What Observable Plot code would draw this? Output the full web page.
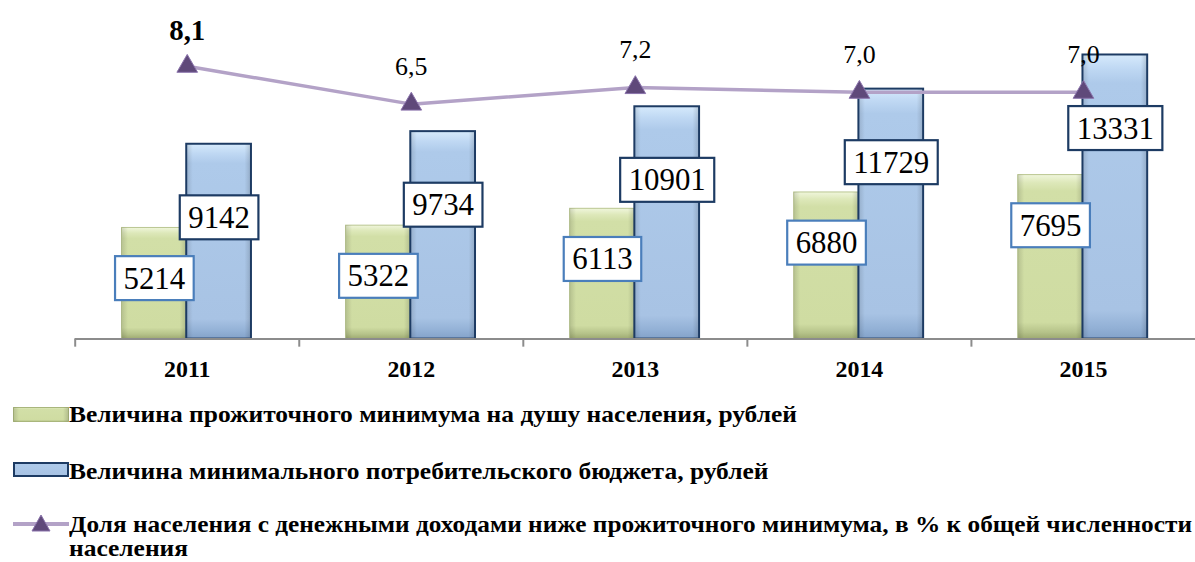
<!DOCTYPE html>
<html>
<head>
<meta charset="utf-8">
<script src="https://cdn.jsdelivr.net/npm/d3@7"></script>
<script src="https://cdn.jsdelivr.net/npm/@observablehq/plot@0.6"></script>
<style>
  html, body { margin: 0; padding: 0; background: #fff; overflow: hidden; }
  #wrap { position: relative; width: 1195px; height: 562px; overflow: hidden; font-family: "Liberation Serif", "Times New Roman", serif; }
  #wrap .layer { position: absolute; left: 0; top: 0; }
  #wrap svg text { font-family: "Liberation Serif", "Times New Roman", serif; }
  #defs { position: absolute; width: 0; height: 0; }
  .lg-text { position: absolute; left: 69px; font-size: 23px; font-weight: bold; line-height: 26px; white-space: nowrap; transform-origin: left center; color: #000; font-family: "Liberation Serif", "Times New Roman", serif; }
  .lg-sw { position: absolute; left: 13px; }
</style>
</head>
<body>
<svg id="defs" aria-hidden="true">
  <defs>
    <linearGradient id="gGreen" x1="0" y1="0" x2="0" y2="1">
      <stop offset="0" stop-color="#f0f6dc"/>
      <stop offset="0.05" stop-color="#dde8b9"/>
      <stop offset="0.1" stop-color="#d2dfa7"/>
      <stop offset="0.9" stop-color="#cfdca2"/>
      <stop offset="0.96" stop-color="#b6c38a"/>
      <stop offset="1" stop-color="#9eaa72"/>
    </linearGradient>
    <linearGradient id="gBlue" x1="0" y1="0" x2="0" y2="1">
      <stop offset="0" stop-color="#d6eafc"/>
      <stop offset="0.05" stop-color="#bfd8f3"/>
      <stop offset="0.1" stop-color="#aecaea"/>
      <stop offset="0.9" stop-color="#a8c3e4"/>
      <stop offset="0.96" stop-color="#93b1d6"/>
      <stop offset="1" stop-color="#83a2c9"/>
    </linearGradient>
    <linearGradient id="gEdge" x1="0" y1="0" x2="1" y2="0">
      <stop offset="0" stop-color="#000" stop-opacity="0.13"/>
      <stop offset="0.1" stop-color="#000" stop-opacity="0"/>
      <stop offset="0.9" stop-color="#000" stop-opacity="0"/>
      <stop offset="1" stop-color="#000" stop-opacity="0.15"/>
    </linearGradient>
  </defs>
</svg>
<div id="wrap"></div>
<script>
// ---- data ----
const years = ["2011", "2012", "2013", "2014", "2015"];
const subsistence = [5214, 5322, 6113, 6880, 7695];       // прожиточный минимум, руб.
const budget = [9142, 9734, 10901, 11729, 13331];          // минимальный потребительский бюджет, руб.
const poverty = [8.1, 6.5, 7.2, 7.0, 7.0];                 // доля населения ниже ПМ, %
const povertyLabels = ["8,1", "6,5", "7,2", "7,0", "7,0"];
const seriesNames = [
  "Величина прожиточного минимума на душу населения, рублей",
  "Величина минимального потребительского бюджета, рублей",
  "Доля населения с денежными доходами ниже прожиточного минимума, в % к общей численности",
  "населения"
];

const rows = years.map((year, i) => ({
  year, sub: subsistence[i], bud: budget[i], pov: poverty[i], povLabel: povertyLabels[i]
}));

const FONT = "'Liberation Serif', 'Times New Roman', serif";
const W = 1200, H = 395;
const common = {
  width: W, height: H, marginLeft: 75, marginRight: 0, marginTop: 19, marginBottom: 55,
  style: { fontFamily: FONT, background: "transparent", overflow: "visible", color: "#000" }
};
const xScale = { type: "band", domain: years, padding: 0, axis: null };

const barsPlot = Plot.plot({
  ...common,
  x: xScale,
  y: { domain: [0, 15000], axis: null },
  marks: [
    Plot.barY(rows, { x: "year", y: "sub", fill: "url(#gGreen)", stroke: "#bac691", strokeWidth: 1, insetLeft: 47, insetRight: 113 }),
    Plot.barY(rows, { x: "year", y: "sub", fill: "url(#gEdge)", insetLeft: 47, insetRight: 113 }),
    Plot.barY(rows, { x: "year", y: "bud", fill: "url(#gBlue)", insetLeft: 112, insetRight: 48 }),
    Plot.barY(rows, { x: "year", y: "bud", fill: "url(#gEdge)", stroke: "#1d3b63", strokeWidth: 2, insetLeft: 112, insetRight: 48 }),
    Plot.ruleY([0], { stroke: "#8c8c8c", strokeWidth: 2 }),
    Plot.ruleX(years, { x: d => d, y1: 0, y2: -380, dx: -112.5, stroke: "#8c8c8c", strokeWidth: 2 }),
    Plot.text(years, { x: d => d, y: 0, dy: 30, text: d => d, fontWeight: "bold", fontSize: 24, fill: "#000" }),
    Plot.text(rows, { x: "year", y: "sub", text: d => String(d.sub), dx: -33, dy: 51, fontSize: 31, fill: "#000" }),
    Plot.text(rows, { x: "year", y: "bud", text: d => String(d.bud), dx: 32, dy: 74, fontSize: 31, fill: "#000" })
  ]
});
barsPlot.classList.add("layer");

const linePlot = Plot.plot({
  ...common,
  x: xScale,
  y: { domain: [0, 10], range: [258.4, 21.0], axis: null },
  marks: [
    Plot.line(rows, { x: "year", y: "pov", stroke: "#b3a2c7", strokeWidth: 3.5 }),
    Plot.dot(rows, { x: "year", y: "pov", symbol: "triangle", r: 7.7, fill: "#5f497a", stroke: "#8a73ab", strokeWidth: 1 }),
    Plot.text(rows.slice(0, 1), { x: "year", y: "pov", text: "povLabel", dy: -36, fontSize: 29, fontWeight: "bold", fill: "#000" }),
    Plot.text(rows.slice(1), { x: "year", y: "pov", text: "povLabel", dy: -38, fontSize: 26, fill: "#000" })
  ]
});
linePlot.classList.add("layer");
linePlot.style.pointerEvents = "none";

const wrap = document.getElementById("wrap");
wrap.appendChild(barsPlot);
wrap.appendChild(linePlot);

// white label boxes behind bar value labels
const NS = "http://www.w3.org/2000/svg";
const textGroups = barsPlot.querySelectorAll('g[aria-label="text"]');
[[textGroups[1], "#4a7ebb"], [textGroups[2], "#1d3b63"]].forEach(([g, color]) => {
  if (!g) return;
  g.querySelectorAll("text").forEach(t => {
    const b = t.getBBox();
    const r = document.createElementNS(NS, "rect");
    const padX = 8.5, padY = 4.5;
    r.setAttribute("x", b.x - padX);
    r.setAttribute("y", b.y - padY);
    r.setAttribute("width", b.width + 2 * padX);
    r.setAttribute("height", b.height + 2 * padY);
    r.setAttribute("fill", "#fff");
    r.setAttribute("stroke", color);
    r.setAttribute("stroke-width", 2.2);
    const tr = t.getAttribute("transform");
    if (tr) r.setAttribute("transform", tr);
    g.insertBefore(r, t);
  });
});

// ---- legend ----
function addSwatch(top, html) {
  const s = document.createElementNS(NS, "svg");
  s.setAttribute("class", "lg-sw");
  s.setAttribute("width", 58);
  s.setAttribute("height", 22);
  s.style.top = top + "px";
  s.innerHTML = html;
  wrap.appendChild(s);
}
function addText(top, txt) {
  const d = document.createElement("div");
  d.className = "lg-text";
  d.style.top = top + "px";
  d.textContent = txt;
  wrap.appendChild(d);
  return d;
}
addSwatch(404, '<rect x="0.5" y="3.5" width="55" height="14" fill="url(#gGreen)" stroke="#a9b67c" stroke-width="1"/><rect x="0.5" y="3.5" width="55" height="14" fill="url(#gEdge)"/>');
addSwatch(459, '<rect x="1" y="4" width="54" height="13" fill="url(#gBlue)" stroke="#1d3b63" stroke-width="2"/>');
addSwatch(513, '<line x1="0" x2="56" y1="11" y2="11" stroke="#b3a2c7" stroke-width="4"/><path d="M28,2 L37,18 L19,18 Z" fill="#5f497a" stroke="#8a73ab" stroke-width="1"/>');

const t1 = addText(402, seriesNames[0]);
const t2 = addText(459, seriesNames[1]);
const t3 = addText(512, seriesNames[2]);
const t4 = addText(536, seriesNames[3]);
const natural = t1.getBoundingClientRect().width;
const sx = 728 / natural;
[t1, t2, t4].forEach(t => { t.style.transform = `scaleX(${sx})`; });
const w3 = t3.getBoundingClientRect().width;
const sx3 = Math.min(sx, (1195 - 69 - 3) / w3);
t3.style.transform = `scaleX(${sx3})`;
</script>
</body>
</html>
